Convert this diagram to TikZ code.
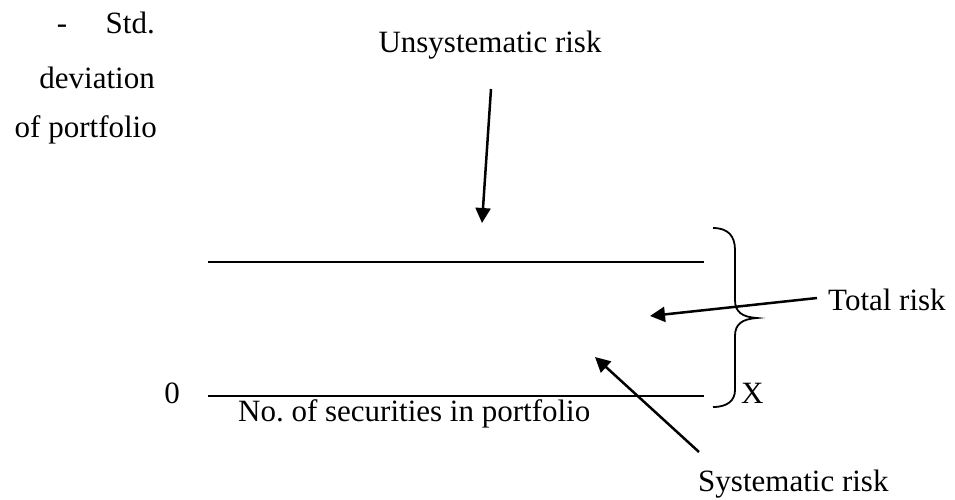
\documentclass[tikz,border=0pt]{standalone}
\usepackage{fontspec}
\setmainfont{Liberation Serif}
\usetikzlibrary{arrows.meta}

\begin{document}
\begin{tikzpicture}[x=1pt,y=-1pt,
    every node/.style={inner sep=0pt,font=\fontsize{31}{37}\selectfont},
    axisline/.style={line width=2pt},
    pointer/.style={-{Triangle[length=15pt,width=15pt]},line width=2.5pt}]
\useasboundingbox (0,0) rectangle (955,499);
    \coordinate (upL) at (208,262);
    \coordinate (upR) at (704,262);
    \coordinate (lowL) at (208,396);
    \coordinate (lowR) at (704,396);
    \coordinate (uStart) at (491,89);
    \coordinate (uTip) at (482,223);
    \coordinate (tStart) at (817,298);
    \coordinate (tTip) at (650,316);
    \coordinate (sStart) at (699,452);
    \coordinate (sTip) at (595,357);
    % y axis label
    \node[anchor=base] (dash) at (62,33) {-};
    \node[anchor=base east] (std) at (155,33) {Std.};
    \node[anchor=base east] (dev) at (155,88) {deviation};
    \node[anchor=base east] (ofp) at (157,137) {of portfolio};
    % the two lines
    \draw[axisline] (upL) -- (upR);
    \draw[axisline] (lowL) -- (lowR);
    \node[anchor=base] (zero) at (172,403) {0};
    \node[anchor=base west] (xlabel) at (238,421) {No.\ of securities in portfolio};
    % brace
    \draw[line width=1.8pt] (713,228) .. controls (728,228) and (735,236) .. (735,250)
        -- (735,300) .. controls (735,312) and (742,317) .. (757,318)
        .. controls (742,319) and (735,324) .. (735,336)
        -- (735,390) .. controls (735,400) and (728,407) .. (713,407);
    \node[anchor=base west] (xmark) at (741,403) {X};
    % labels and arrows
    \node[anchor=base] (unsys) at (490,52) {Unsystematic risk};
    \node[anchor=base west] (total) at (828,310) {Total risk};
    \node[anchor=base west] (sys) at (698,491) {Systematic risk};
    \draw[pointer] (uStart) -- (uTip);
    \draw[pointer] (tStart) -- (tTip);
    \draw[pointer] (sStart) -- (sTip);
\end{tikzpicture}
\end{document}
